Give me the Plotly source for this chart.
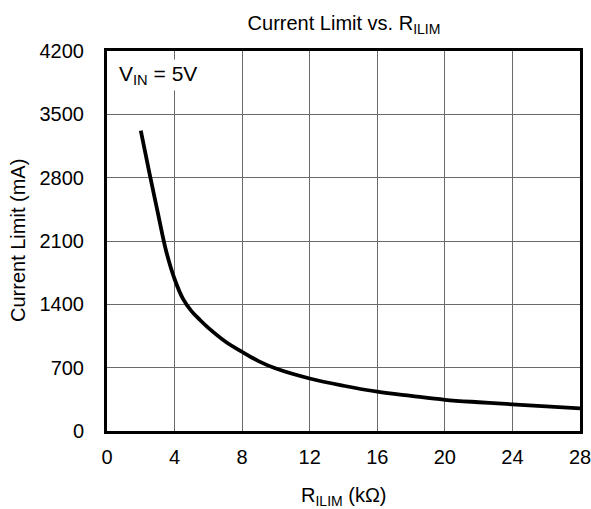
import plotly.graph_objects as go

r_ilim_kohm = [2, 2.5, 3, 3.5, 4, 4.5, 5, 5.5, 6, 7, 8, 9, 10, 12, 14, 16, 18, 20, 22, 24, 26, 28]
current_ma = [3320, 2860, 2420, 1990, 1680, 1460, 1325, 1228, 1140, 990, 875, 770, 690, 580, 500, 434, 388, 345, 318, 295, 272, 251]

x_ticks = [0, 4, 8, 12, 16, 20, 24, 28]
y_ticks = [0, 700, 1400, 2100, 2800, 3500, 4200]

font = "Liberation Sans, Arial, sans-serif"
FS = 20

fig = go.Figure()
fig.add_trace(go.Scatter(x=r_ilim_kohm, y=current_ma, mode="lines",
                         line=dict(color="black", width=3.8, shape="spline"),
                         showlegend=False))

fig.update_layout(
    width=591, height=509,
    margin=dict(l=107, r=11, t=51, b=78, autoexpand=False),
    paper_bgcolor="white", plot_bgcolor="white",
    font=dict(family=font, color="black", size=FS),
    title=dict(text="Current Limit vs. R<sub>ILIM</sub>", x=344/591, xanchor="center",
               y=1 - 23/509, yanchor="middle", font=dict(size=FS, family=font)),
    showlegend=False,
)
fig.update_xaxes(range=[0, 28], tickvals=x_ticks, showgrid=True, gridcolor="#6a6a6a", gridwidth=1.3,
                 showline=True, linecolor="black", linewidth=3, mirror=True,
                 ticks="", zeroline=False, tickfont=dict(size=FS), ticklabelstandoff=6,
                 ticklabeloverflow="allow")
fig.update_yaxes(range=[0, 4200], tickvals=y_ticks, showgrid=True, gridcolor="#6a6a6a", gridwidth=1.3,
                 showline=True, linecolor="black", linewidth=3, mirror=True,
                 ticks="", zeroline=False, tickfont=dict(size=FS), ticklabelstandoff=16,
                 ticklabeloverflow="allow")

# axis titles
fig.add_annotation(xref="paper", yref="paper", x=0.5, y=0, xanchor="center", yanchor="middle",
                   yshift=-65, text="R<sub>ILIM</sub> (kΩ)", showarrow=False,
                   font=dict(size=FS, family=font))
fig.add_annotation(xref="paper", yref="paper", x=0, y=0.5, xanchor="center", yanchor="middle",
                   xshift=-89, text="Current Limit (mA)", textangle=-90, showarrow=False,
                   font=dict(size=FS, family=font))

fig.add_annotation(x=0, y=4200, xref="x", yref="y", xanchor="left", yanchor="top",
                   xshift=9, yshift=-8,
                   text="V<sub>IN</sub> = 5V", showarrow=False, bgcolor="white",
                   font=dict(size=FS + 1, family=font), borderpad=2)

fig.write_html("out.html")
